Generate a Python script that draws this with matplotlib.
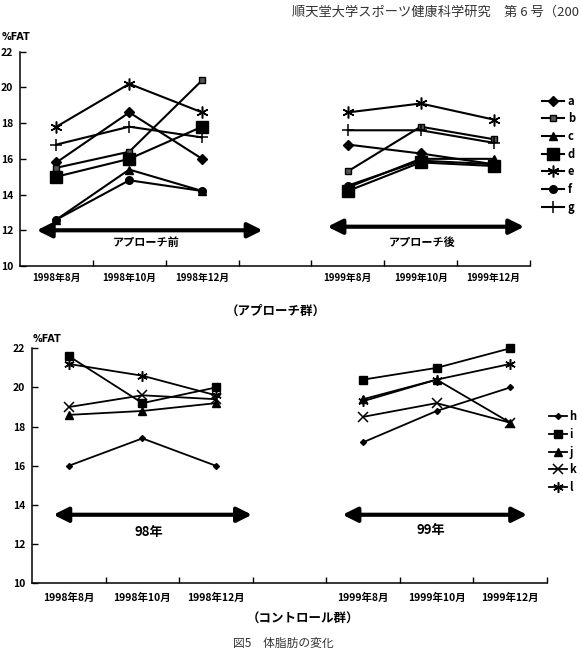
import matplotlib
matplotlib.use('Agg')
import matplotlib.pyplot as plt

plt.rcParams['font.family'] = ['Noto Sans CJK JP', 'DejaVu Sans']

# カテゴリ（4番目は空欄）
months = ['1998年8月', '1998年10月', '1998年12月', '',
          '1999年8月', '1999年10月', '1999年12月']
idx_98 = [0, 1, 2]
idx_99 = [4, 5, 6]

# アプローチ群 (%FAT)
appr_names = ['a', 'b', 'c', 'd', 'e', 'f', 'g']
appr_98 = [
    [15.8, 18.6, 16.0],
    [15.5, 16.4, 20.4],
    [12.6, 15.4, 14.2],
    [15.0, 16.0, 17.8],
    [17.8, 20.2, 18.6],
    [12.6, 14.8, 14.2],
    [16.8, 17.8, 17.2],
]
appr_99 = [
    [16.8, 16.3, 15.7],
    [15.3, 17.8, 17.1],
    [14.4, 16.0, 16.0],
    [14.2, 15.8, 15.6],
    [18.6, 19.1, 18.2],
    [14.5, 15.9, 15.7],
    [17.6, 17.6, 16.9],
]

# コントロール群 (%FAT)
ctrl_names = ['h', 'i', 'j', 'k', 'l']
ctrl_98 = [
    [16.0, 17.4, 16.0],
    [21.6, 19.2, 20.0],
    [18.6, 18.8, 19.2],
    [19.0, 19.6, 19.4],
    [21.2, 20.6, 19.6],
]
ctrl_99 = [
    [17.2, 18.8, 20.0],
    [20.4, 21.0, 22.0],
    [19.4, 20.4, 18.2],
    [18.5, 19.2, 18.2],
    [19.3, 20.4, 21.2],
]

yticks = [10, 12, 14, 16, 18, 20, 22]

asterisk = (6, 2, 0)
appr_style = {
    'a': dict(marker='D', ms=5),
    'b': dict(marker='s', ms=5, mfc='#555555'),
    'c': dict(marker='^', ms=6),
    'd': dict(marker='s', ms=8.5),
    'e': dict(marker=asterisk, ms=8.5, mew=1.1),
    'f': dict(marker='o', ms=5.5),
    'g': dict(marker='+', ms=8, mew=1.1),
}
ctrl_style = {
    'h': dict(marker='D', ms=3),
    'i': dict(marker='s', ms=5.5),
    'j': dict(marker='^', ms=6),
    'k': dict(marker='x', ms=6.5, mew=1.1),
    'l': dict(marker=asterisk, ms=7.5, mew=1.1),
}


def setup_axes(ax, label_size, label_pad):
    ax.set_xlim(-0.5, len(months) - 0.5)
    ax.set_ylim(10, 22)
    ax.set_yticks(yticks)
    ax.set_yticklabels([str(v) for v in yticks], fontsize=7.5, fontweight='bold')
    for s in ['top', 'right']:
        ax.spines[s].set_visible(False)
    for s in ['left', 'bottom']:
        ax.spines[s].set_linewidth(1.1)
    ax.set_xticks([i + 0.5 for i in range(len(months))])
    ax.set_xticklabels([])
    ax.set_xticks(range(len(months)), minor=True)
    ax.set_xticklabels(months, minor=True, fontsize=label_size, fontweight='bold')
    ax.tick_params(axis='x', which='major', direction='in', length=4, width=1)
    ax.tick_params(axis='x', which='minor', length=0, pad=label_pad)
    ax.tick_params(axis='y', direction='in', length=4, width=1, pad=5)


def draw_arrow(ax, x0, x1, y, text, ty, size):
    ax.annotate('', xy=(x1, y), xytext=(x0, y),
                arrowprops=dict(arrowstyle='<|-|>', lw=3, color='black',
                                mutation_scale=22, shrinkA=0, shrinkB=0),
                annotation_clip=False)
    ax.text((x0 + x1) / 2 - 0.05, ty, text, ha='center', va='center',
            fontsize=size, fontweight='bold')


def draw_series(ax, names, data98, data99, styles, lw):
    for name, v98, v99 in zip(names, data98, data99):
        st = styles[name]
        kw = dict(color='black', lw=lw, mfc=st.get('mfc', 'black'), mec='black',
                  marker=st['marker'], ms=st['ms'], mew=st.get('mew', 1),
                  clip_on=False)
        ax.plot(idx_98, v98, label=name, **kw)
        ax.plot(idx_99, v99, **kw)


fig = plt.figure(figsize=(5.82, 6.48), dpi=100)

# ---- アプローチ群 ----
ax1 = fig.add_axes([20 / 582, 1 - 266 / 648, 510 / 582, 214.3 / 648])
setup_axes(ax1, 7, 5)
draw_series(ax1, appr_names, appr_98, appr_99, appr_style, 1.5)
ax1.legend(loc='upper left', bbox_to_anchor=(1.015, 0.82), frameon=False,
           handlelength=2.0, handletextpad=0.3, labelspacing=0.42,
           borderaxespad=0, prop={'weight': 'bold', 'size': 8})
draw_arrow(ax1, -0.27, 2.83, 12, 'アプローチ前', 11.3, 8)
draw_arrow(ax1, 3.72, 6.42, 12.2, 'アプローチ後', 11.3, 8)
fig.text(2 / 582, 1 - 37 / 648, '%FAT', fontsize=7, fontweight='bold',
         family='DejaVu Sans', va='center')
fig.text(276 / 582, 1 - 311 / 648, '（アプローチ群）', ha='center', va='center',
         fontsize=9, fontweight='bold')

# ---- コントロール群 ----
ax2 = fig.add_axes([32 / 582, 1 - 583.3 / 648, 515 / 582, 235 / 648])
setup_axes(ax2, 7.5, 7)
draw_series(ax2, ctrl_names, ctrl_98, ctrl_99, ctrl_style, 1.3)
ax2.legend(loc='upper left', bbox_to_anchor=(0.995, 0.755), frameon=False,
           handlelength=1.6, handletextpad=0.25, labelspacing=0.42,
           borderaxespad=0, prop={'weight': 'bold', 'size': 8})
draw_arrow(ax2, -0.21, 2.49, 13.5, '98年', 12.6, 9.5)
draw_arrow(ax2, 3.72, 6.23, 13.5, '99年', 12.7, 9.5)
fig.text(33 / 582, 1 - 339 / 648, '%FAT', fontsize=7, fontweight='bold',
         family='DejaVu Sans', va='center')
fig.text(303 / 582, 1 - 619 / 648, '（コントロール群）', ha='center', va='center',
         fontsize=9, fontweight='bold')

# ヘッダー・キャプション
fig.text(579 / 582, 1 - 12 / 648, '順天堂大学スポーツ健康科学研究　第 6 号（200',
         fontsize=9.5, va='center', ha='right', color='#333333')
fig.text(283 / 582, 1 - 643 / 648, '図5　体脂肪の変化', ha='center', va='center',
         fontsize=8.5, color='#333333')

fig.savefig('out.png', dpi=100, facecolor='white')
